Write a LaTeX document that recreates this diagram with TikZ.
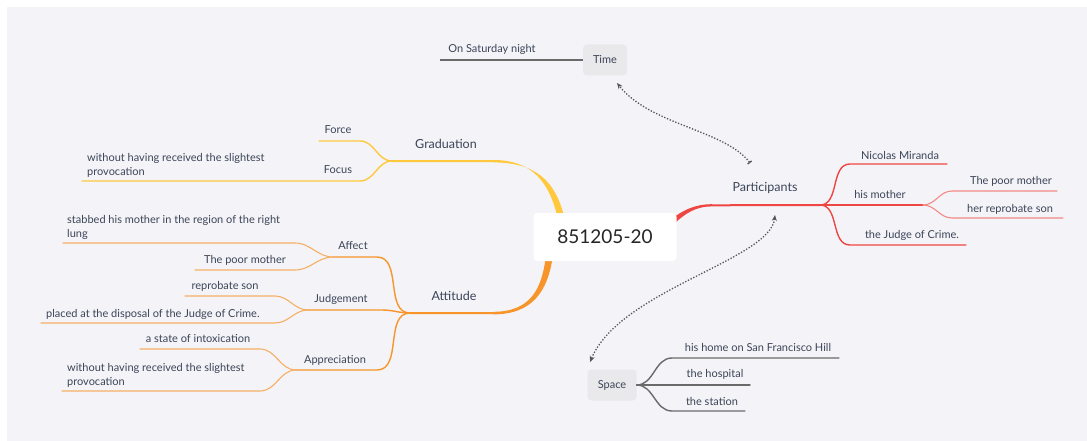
\documentclass[tikz,border=0pt]{standalone}
\usepackage{fontspec}
\setmainfont{Lato}
\usetikzlibrary{arrows.meta}
\definecolor{panel}{HTML}{F4F4F8}
\definecolor{ink}{HTML}{3B4457}
\definecolor{gradyel}{HTML}{FFC83D}
\definecolor{gradyellight}{HTML}{FAD77E}
\definecolor{attor}{HTML}{F7952B}
\definecolor{attorlight}{HTML}{F6AE63}
\definecolor{partred}{HTML}{EE4743}
\definecolor{partredlight}{HTML}{F28A86}
\definecolor{locgray}{HTML}{6A6A6A}
\definecolor{locbox}{HTML}{E9E9EB}
\definecolor{relgray}{HTML}{555555}
\tikzset{
  lbl/.style={text=ink, font=\fontsize{11}{14}\selectfont, inner sep=0pt},
  toplbl/.style={lbl, font=\fontsize{12.5}{15}\selectfont},
  lblml/.style={lbl, align=left, anchor=south west},
  br/.style={line width=1.4pt, line cap=round},
  leaf/.style={line width=1.1pt, line cap=round},
  locnode/.style={fill=locbox, rounded corners=4pt, minimum width=44pt, minimum height=31pt, text=ink, font=\fontsize{11}{14}\selectfont},
  rel/.style={relgray, line width=1.3pt, dash pattern=on 1.3pt off 1.7pt},
}
\begin{document}
\begin{tikzpicture}[x=1pt,y=-1pt]
	% canvas
	\useasboundingbox (0,0) rectangle (1087,441);
	\fill[panel] (7,7) rectangle (1087,441);

	% junctions
	\coordinate (gradJ) at (392,161);
	\coordinate (attJ) at (410,313);
	\coordinate (partJ) at (820,205);
	\coordinate (affJ) at (333,257);
	\coordinate (judJ) at (308,310);
	\coordinate (appJ) at (296,370);
	\coordinate (motherJ) at (923,205);

	% main branches (tapered, behind the root)
	\fill[gradyel] (493,160) .. controls (532,160) and (550,182) .. (558,220)
		-- (565,220) .. controls (556,180) and (535,162.4) .. (493,162.4) -- cycle;
	\draw[gradyel, line width=2pt] (493,161.2) -- (gradJ);
	\fill[attor] (493,311.8) .. controls (530,311.8) and (542,290) .. (546,255)
		-- (553,255) .. controls (548,292) and (532,314.4) .. (493,314.4) -- cycle;
	\draw[attor, line width=2pt] (493,313.1) -- (attJ);
	\fill[partred] (668,222) .. controls (682,210) and (695,204.2) .. (712,204.2)
		-- (712,206.4) .. controls (697,206.4) and (686,212) .. (672,226) -- cycle;
	\draw[partred, line width=2pt] (712,205.3) -- (partJ);

	% root
	\node[fill=white, rounded corners=4pt, minimum width=143pt, minimum height=48pt,
		font=\fontsize{19}{22}\selectfont, text=black!85] (root) at (605,237) {851205-20};

	% graduation
	\node[toplbl] (grad) at (446,144) {Graduation};
	\draw[br, gradyel] (gradJ) to[out=180,in=0] (360,141) -- (319,141);
	\draw[br, gradyel] (gradJ) to[out=180,in=0] (360,181) -- (317,181);
	\node[lbl] (force) at (338,130) {Force};
	\node[lbl] (focus) at (338,170) {Focus};
	\draw[leaf, gradyellight] (317,181) -- (82,181);
	\node[lblml] (focus1) at (87,178) {without having received the slightest\\provocation};

	% attitude
	\node[toplbl] (att) at (454,296) {Attitude};
	\draw[br, attor] (attJ) to[out=180,in=0] (377,257) -- (affJ);
	\draw[br, attor] (attJ) to[out=180,in=0] (382,310) -- (judJ);
	\draw[br, attor] (attJ) to[out=180,in=0] (377,370) -- (appJ);
	\node[lbl] (affect) at (353,246) {Affect};
	\node[lbl] (judge) at (341,299) {Judgement};
	\node[lbl] (apprec) at (335,360) {Appreciation};
	% affect
	\draw[leaf, attorlight] (affJ) to[out=180,in=0] (295,243) -- (63,243);
	\draw[leaf, attorlight] (affJ) to[out=180,in=0] (295,270) -- (195,270);
	\node[lblml] (aff1) at (67,240) {stabbed his mother in the region of the right\\lung};
	\node[lbl] (aff2) at (245,260) {The poor mother};
	% judgement
	\draw[leaf, attorlight] (judJ) to[out=180,in=0] (275,296) -- (185,296);
	\draw[leaf, attorlight] (judJ) to[out=180,in=0] (275,323) -- (41,323);
	\node[lbl] (jud1) at (225,286) {reprobate son};
	\node[lblml] (jud2) at (46,320) {placed at the disposal of the Judge of Crime.};
	% appreciation
	\draw[leaf, attorlight] (appJ) to[out=180,in=0] (260,349) -- (140,349);
	\draw[leaf, attorlight] (appJ) to[out=180,in=0] (260,391) -- (62,391);
	\node[lbl] (app1) at (198,339) {a state of intoxication};
	\node[lblml] (app2) at (67,388) {without having received the slightest\\provocation};

	% participants
	\node[toplbl] (part) at (765,188) {Participants};
	\draw[br, partred] (partJ) to[out=0,in=180] (850,164) -- (947,164);
	\draw[br, partred] (partJ) -- (motherJ);
	\draw[br, partred] (partJ) to[out=0,in=180] (850,245) -- (966,245);
	\node[lbl] (nico) at (900,155) {Nicolas Miranda};
	\node[lbl] (mother) at (880,194) {his mother};
	\node[lbl] (judgeC) at (912,235) {the Judge of Crime.};
	\draw[leaf, partredlight] (motherJ) to[out=0,in=180] (952,191) -- (1057,191);
	\draw[leaf, partredlight] (motherJ) to[out=0,in=180] (952,218) -- (1063,218);
	\node[lbl] (m1) at (1011,181) {The poor mother};
	\node[lbl] (m2) at (1010,209) {her reprobate son};

	% time
	\node[locnode] (time) at (605,60) {Time};
	\draw[locgray, line width=1.4pt] (time.west) -- (440,60);
	\node[lbl] (t1) at (492,49) {On Saturday night};

	% space
	\node[locnode, minimum width=49pt] (space) at (612,385) {Space};
	\draw[br, locgray] (space.east) to[out=0,in=180] (672,358) -- (839,358);
	\draw[br, locgray] (space.east) -- (750,385);
	\draw[br, locgray] (space.east) to[out=0,in=180] (672,411) -- (745,411);
	\node[lbl] (s1) at (758,347) {his home on San Francisco Hill};
	\node[lbl] (s2) at (715,374) {the hospital};
	\node[lbl] (s3) at (712,401) {the station};

	% relations
	\coordinate (relT) at (750,163);
	\coordinate (relS) at (775,215);
	\draw[rel, {Bar[width=5pt]}-{Stealth[length=6pt,width=5pt]}] (relT) .. controls (725,130) and (650,125) .. (617,83);
	\draw[rel, {Stealth[length=6pt,width=5pt]}-{Stealth[length=6pt,width=5pt]}] (relS) .. controls (770,260) and (620,290) .. (590,362);
\end{tikzpicture}
\end{document}
